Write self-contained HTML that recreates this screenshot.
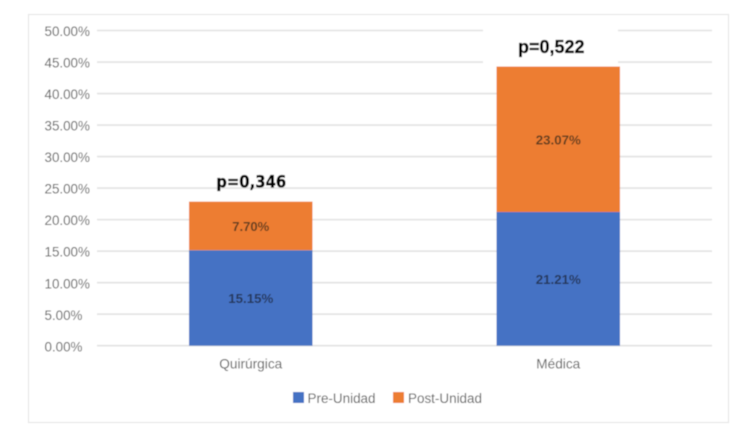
<!DOCTYPE html>
<html>
<head>
<meta charset="utf-8">
<style>
html,body{margin:0;padding:0;background:#fff;width:750px;height:448px;overflow:hidden}
svg{display:block}
text{font-family:"Liberation Sans","DejaVu Sans",sans-serif}
</style>
</head>
<body>
<svg id="chart" width="750" height="448" viewBox="0 0 750 448" xmlns="http://www.w3.org/2000/svg">
<defs><filter id="soft" x="-5%" y="-5%" width="110%" height="110%"><feGaussianBlur stdDeviation="0.4"/></filter></defs>
<g id="root" filter="url(#soft)">
<rect x="28.5" y="14.5" width="700" height="408" fill="#fff" stroke="#e3e3e3" stroke-width="1"/>
</g>
</svg>
<script>
const categories = ['Quirúrgica', 'Médica'];
const preUnidad = [15.15, 21.21];
const postUnidad = [7.70, 23.07];
const pValues = ['p=0,346', 'p=0,522'];
const yTicks = [0, 5, 10, 15, 20, 25, 30, 35, 40, 45, 50];

const NS = 'http://www.w3.org/2000/svg';
const root = document.getElementById('root');
const plot = { left: 97, right: 712, top: 30.5, bottom: 345.7 };
const yMax = 50;
function y(v) { return plot.bottom - (v / yMax) * (plot.bottom - plot.top); }
function bandCenter(i) { return plot.left + (plot.right - plot.left) * (i + 0.5) / categories.length; }
const barWidth = 123.5;

function mk(tag, attrs, text) {
  const el = document.createElementNS(NS, tag);
  for (const k in attrs) el.setAttribute(k, attrs[k]);
  if (text !== undefined) el.textContent = text;
  root.appendChild(el);
  return el;
}

yTicks.forEach(function (t) {
  const line = mk('line', { x1: plot.left, x2: plot.right, y1: y(t), y2: y(t), stroke: '#e2e2e2', 'stroke-width': 1.6 });
  
  
  const label = mk('text', { x: 44.5, y: y(t) + 5.6, 'font-size': 13.4, fill: '#5f5f5f' }, t.toFixed(2) + '%');
  
  
});

const pMask = mk('rect', { x: 483, y: y(50) - 2, width: 135, height: 35.5, fill: '#fff' });



categories.forEach(function (cat, i) {
  const cx = bandCenter(i);
  const pre = preUnidad[i];
  const post = postUnidad[i];
  const total = pre + post;

  const barPre = mk('rect', { x: cx - barWidth / 2, y: y(pre), width: barWidth, height: y(0) - y(pre), fill: '#4472c4' });
  
  

  const barPost = mk('rect', { x: cx - barWidth / 2, y: y(total), width: barWidth, height: y(pre) - y(total), fill: '#ed7d31' });
  
  

  const preLabel = mk('text', { x: cx, y: y(pre / 2) + 5, 'font-size': 13.2, 'font-weight': 700, fill: '#28375a', 'text-anchor': 'middle', textLength: 45, lengthAdjust: 'spacingAndGlyphs' }, pre.toFixed(2) + '%');
  
  

  const postLabel = mk('text', { x: cx, y: y(pre + post / 2) + 5, 'font-size': 13.2, 'font-weight': 700, fill: '#5f3c22', 'text-anchor': 'middle', textLength: post < 10 ? 37 : 45, lengthAdjust: 'spacingAndGlyphs' }, post.toFixed(2) + '%');
  
  

  const catLabel = mk('text', { x: cx, y: 368.5, 'font-size': 13.6, fill: '#5f5f5f', 'text-anchor': 'middle', textLength: i === 0 ? 63 : 44, lengthAdjust: 'spacingAndGlyphs' }, cat);
  
  

  const pLabel = mk('text', i === 0
    ? { x: cx + 0.5, y: y(total) - 14, 'font-size': 16.5, 'font-weight': 700, fill: '#000', stroke: '#000', 'stroke-width': 0.35, 'text-anchor': 'middle', textLength: 70, lengthAdjust: 'spacingAndGlyphs', style: 'font-family:"DejaVu Sans",sans-serif' }
    : { x: cx - 7, y: y(total) - 13.5, 'font-size': 18, 'font-weight': 700, fill: '#000', stroke: '#000', 'stroke-width': 0.35, 'text-anchor': 'middle' }, pValues[i]);
  
  
});

const swatchPre = mk('rect', { x: 293, y: 392, width: 11, height: 11, fill: '#4472c4' });


const legendPre = mk('text', { x: 307.5, y: 403, 'font-size': 13.4, fill: '#5f5f5f', textLength: 68, lengthAdjust: 'spacingAndGlyphs' }, 'Pre-Unidad');


const swatchPost = mk('rect', { x: 393, y: 392, width: 11, height: 11, fill: '#ed7d31' });


const legendPost = mk('text', { x: 408, y: 403, 'font-size': 13.4, fill: '#5f5f5f', textLength: 74, lengthAdjust: 'spacingAndGlyphs' }, 'Post-Unidad');


</script>
</body>
</html>
